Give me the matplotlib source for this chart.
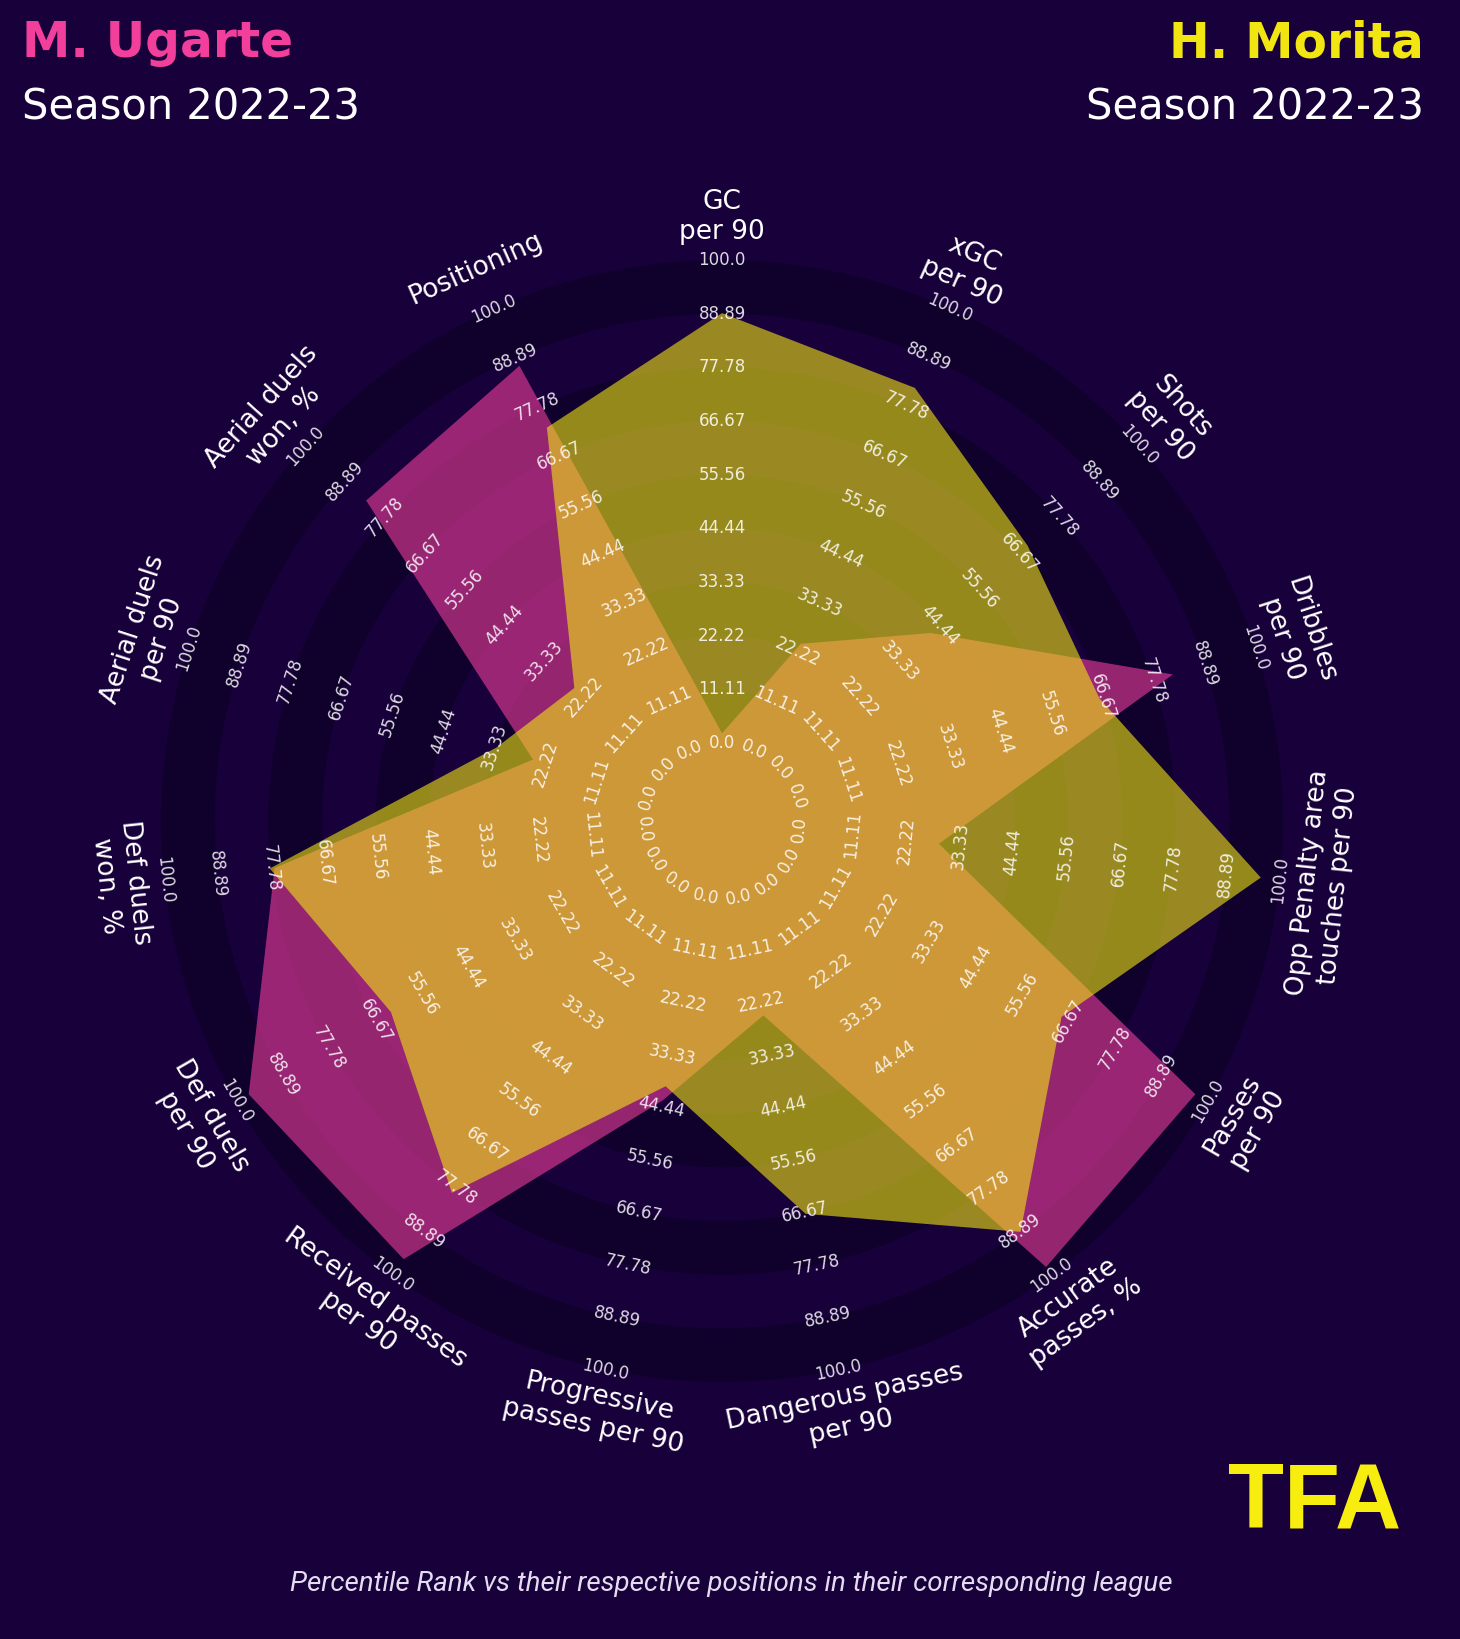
import numpy as np
import matplotlib.pyplot as plt

# radar parameters, clockwise from the top
params = ['GC\nper 90', 'xGC\nper 90', 'Shots\nper 90', 'Dribbles\nper 90',
          'Opp Penalty area\ntouches per 90', 'Passes\nper 90', 'Accurate\npasses, %',
          'Dangerous passes\nper 90', 'Progressive\npasses per 90', 'Received passes\nper 90',
          'Def duels\nper 90', 'Def duels\nwon, %', 'Aerial duels\nper 90',
          'Aerial duels\nwon, %', 'Positioning']

# percentile ranks
ugarte = [2, 24, 42, 82, 29, 97, 98, 25, 43, 96, 97, 77, 25, 83, 87]
morita = [89, 82, 69, 66, 96, 65, 89, 67, 40, 79, 63, 78, 33, 25, 73]

ring_values = [0, 11.11, 22.22, 33.33, 44.44, 55.56, 66.67, 77.78, 88.89, 100]
ring_labels = ['0.0', '11.11', '22.22', '33.33', '44.44', '55.56', '66.67', '77.78', '88.89', '100.0']

bg = '#18003b'
ring_col = '#0f002c'
pink = '#f23f9c'
yellow = '#f2e612'

fig = plt.figure(figsize=(14.6, 16.39), dpi=100, facecolor=bg)
ax = fig.add_axes([0.1103, 0.1568, 0.7685, 0.6846], projection='polar')
ax.set_theta_offset(np.pi / 2)
ax.set_theta_direction(-1)
# inner empty circle: value 0 sits at a radius offset from the centre
ax.set_ylim(-16.15, 100)
ax.set_rorigin(-16.15)
ax.axis('off')

n = len(params)
theta = np.arange(n) * 2 * np.pi / n

# alternating dark rings
for lo, hi in zip(ring_values[0::2], ring_values[1::2]):
    ax.bar(0, hi - lo, width=2 * np.pi, bottom=lo, align='edge',
           color=ring_col, edgecolor='none', zorder=1)

th = np.append(theta, theta[0])
ax.fill(th, ugarte + ugarte[:1], color=pink, alpha=0.6, lw=0, zorder=2)
ax.fill(th, morita + morita[:1], color=yellow, alpha=0.6, lw=0, zorder=3)

for i in range(n):
    ang = np.degrees(theta[i])
    rot = -ang
    if 90 < ang < 270:
        rot += 180
    for v, lab in zip(ring_values, ring_labels):
        ax.text(theta[i], v, lab, rotation=rot, rotation_mode='anchor',
                ha='center', va='center', fontsize=12, color='white',
                alpha=0.85, zorder=5)
    ax.text(theta[i], 109, params[i], rotation=rot, rotation_mode='anchor',
            ha='center', va='center', multialignment='center', fontsize=19,
            color='white', zorder=5)

fig.text(0.015, 0.9652, 'M. Ugarte', color=pink, fontsize=35, fontweight='bold',
         ha='left', va='baseline')
fig.text(0.015, 0.9268, 'Season 2022-23', color='white', fontsize=30,
         ha='left', va='baseline')
fig.text(0.975, 0.9652, 'H. Morita', color=yellow, fontsize=35, fontweight='bold',
         ha='right', va='baseline')
fig.text(0.975, 0.9268, 'Season 2022-23', color='white', fontsize=30,
         ha='right', va='baseline')

fig.text(0.96, 0.0683, 'TFA', color='#f7ee10', fontsize=66, fontweight='bold',
         family='Liberation Sans', ha='right', va='baseline')

fig.text(0.501, 0.0335, 'Percentile Rank vs their respective positions in their corresponding league',
         color='#e4dcf0', fontsize=20, style='italic', family='Roboto',
         ha='center', va='center')

fig.savefig('out.png', dpi=100, facecolor=bg)
